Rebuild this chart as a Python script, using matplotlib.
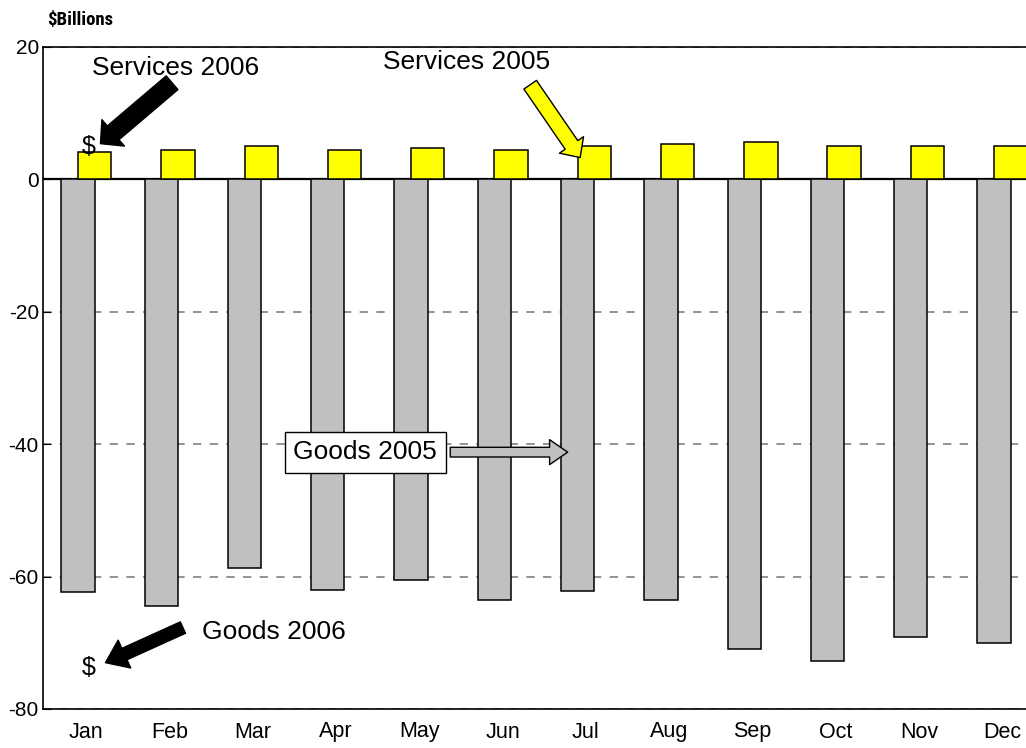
import matplotlib

matplotlib.use("Agg")
import matplotlib.pyplot as plt
import numpy as np

plt.rcParams["font.family"] = ["Liberation Sans", "DejaVu Sans"]

months = ["Jan", "Feb", "Mar", "Apr", "May", "Jun",
          "Jul", "Aug", "Sep", "Oct", "Nov", "Dec"]
# monthly balances, $ billions
services = [4.2, 4.5, 5.0, 4.5, 4.7, 4.5, 5.0, 5.4, 5.6, 5.1, 5.0, 5.1]
goods = [-62.4, -64.4, -58.7, -62.0, -60.5, -63.5,
         -62.1, -63.6, -71.0, -72.8, -69.1, -70.0]
y_ticks = [20, 0, -20, -40, -60, -80]

GRAY = "#c0c0c0"
YELLOW = "#ffff00"

fig = plt.figure(figsize=(10.26, 7.48), dpi=100)
ax = fig.add_axes([43 / 1026, 39 / 748, 1001 / 1026, 662 / 748])

x = np.arange(len(months))
ax.bar(x - 0.1, goods, width=0.4, color=GRAY, edgecolor="black", lw=1.1, zorder=3)
ax.bar(x + 0.1, services, width=0.4, color=YELLOW, edgecolor="black", lw=1.1, zorder=3)

ax.set_xlim(-0.52, 11.5)
ax.set_ylim(-80, 20)
ax.set_yticks(y_ticks)
ax.set_yticklabels([str(v) for v in y_ticks])
ax.set_xticks(x)
ax.set_xticklabels(months)

ax.grid(axis="y", ls=(0, (5, 5)), color="#808080", lw=1.2, zorder=1)
ax.axhline(0, color="black", lw=1.6, zorder=2)
ax.tick_params(axis="x", length=0, pad=9, labelsize=15.5)
ax.tick_params(axis="y", direction="in", length=6, pad=3, labelsize=15)
for s in ax.spines.values():
    s.set_linewidth(1.2)

# --- annotations --------------------------------------------------------
def block_arrow(tail, tip, fc, shaft, head_w, head_l, lw=1.0):
    style = f"simple,head_length={head_l},head_width={head_w},tail_width={shaft}"
    ax.annotate("", xy=tip, xytext=tail, zorder=5,
                arrowprops=dict(arrowstyle=style, fc=fc, ec="black", lw=lw,
                                shrinkA=0, shrinkB=0, mutation_scale=1))

ax.text(1.07, 16.9, "Services 2006", fontsize=19, ha="center", va="center", zorder=6)
block_arrow((1.03, 14.6), (0.17, 5.4), "black", 13, 25, 12)
ax.text(0.03, 4.9, "$", fontsize=18, ha="center", va="center", zorder=6)

ax.text(4.57, 17.7, "Services 2005", fontsize=19, ha="center", va="center", zorder=6)
block_arrow((5.33, 14.3), (5.93, 3.3), YELLOW, 11, 21, 11)

ax.text(3.35, -41.2, "Goods 2005", fontsize=19, ha="center", va="center", zorder=6,
        bbox=dict(boxstyle="square,pad=0.32", fc="white", ec="black", lw=1))
block_arrow((4.37, -41.2), (5.78, -41.2), GRAY, 7, 18, 13)

ax.text(2.25, -68.4, "Goods 2006", fontsize=19, ha="center", va="center", zorder=6)
block_arrow((1.16, -67.7), (0.23, -73.0), "black", 9, 22, 15)
ax.text(0.03, -73.8, "$", fontsize=18, ha="center", va="center", zorder=6)

fig.text(47 / 1026, 1 - 20 / 748, "$Billions", fontsize=13.5, fontweight="heavy",
         family=["Roboto Condensed", "Liberation Sans Narrow", "DejaVu Sans"],
         ha="left", va="center")

fig.savefig("out.png", dpi=100)
plt.close(fig)
